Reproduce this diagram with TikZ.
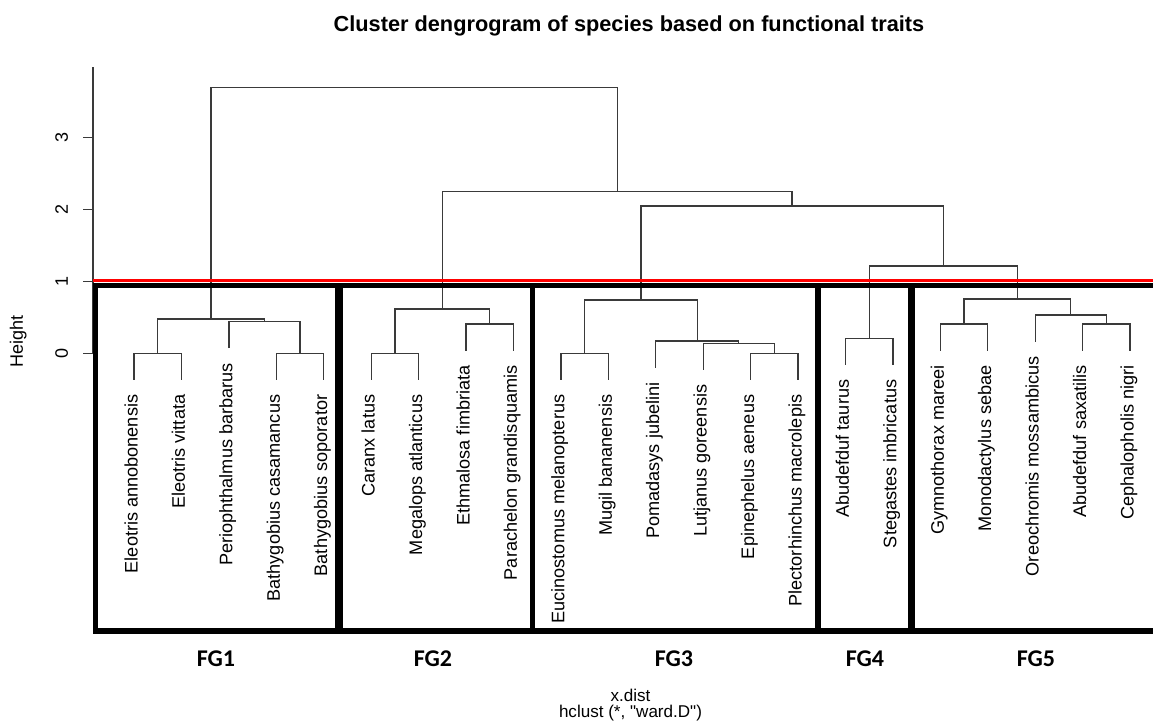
\documentclass[tikz,border=0pt]{standalone}
\usepackage{fontspec}
\setmainfont{Liberation Sans}
\newfontfamily\fgfont{Carlito}
\newfontfamily\subfont[Ligatures=ResetAll]{Liberation Sans}
\definecolor{treegray}{HTML}{3A3A3A}
\definecolor{cutred}{HTML}{FF0000}

\begin{document}
\begin{tikzpicture}[x=0.75pt,y=-0.75pt,
  dendroline/.style={draw=treegray,line width=0.95pt},
  axisline/.style={draw=treegray,line width=0.95pt},
  species/.style={rotate=90,anchor=mid east,inner sep=0pt,font=\fontsize{13.6}{16}\selectfont},
  ticklabel/.style={rotate=90,inner sep=0pt,font=\fontsize{13.5}{16}\selectfont},
  boxedge/.style={draw=black,line width=#1},
  fglabel/.style={anchor=base,inner sep=0pt,font=\fgfont\bfseries\fontsize{18}{20}\selectfont}]
\useasboundingbox (0,0) rectangle (1153,726);

\node[anchor=base,inner sep=0pt,font=\bfseries\fontsize{16.3}{19}\selectfont] (title) at (629,31.7) {Cluster dengrogram of species based on functional traits};

% axis
\draw[axisline] (93,67) -- (93,353.3);
\draw[axisline] (83,353.3) -- (93,353.3);
\draw[axisline] (83,281.3) -- (93,281.3);
\draw[axisline] (83,209.3) -- (93,209.3);
\draw[axisline] (83,137.3) -- (93,137.3);
\node[ticklabel] (h0) at (61.7,353.3) {0};
\node[ticklabel] (h1) at (61.7,281.3) {1};
\node[ticklabel] (h2) at (61.7,209.3) {2};
\node[ticklabel] (h3) at (61.7,137.3) {3};
\node[ticklabel] (ylab) at (18.3,341.7) {Height};

% leaf ends
\coordinate (l1) at (134.0,379.8);
\coordinate (l2) at (181.4,379.8);
\coordinate (l3) at (228.9,348.2);
\coordinate (l4) at (276.3,379.8);
\coordinate (l5) at (323.7,379.8);
\coordinate (l6) at (371.2,379.8);
\coordinate (l7) at (418.6,379.8);
\coordinate (l8) at (466.0,350.5);
\coordinate (l9) at (513.4,350.5);
\coordinate (l10) at (560.9,379.8);
\coordinate (l11) at (608.3,379.8);
\coordinate (l12) at (655.7,367.5);
\coordinate (l13) at (703.2,369.8);
\coordinate (l14) at (750.6,379.8);
\coordinate (l15) at (798.0,379.8);
\coordinate (l16) at (845.4,364.8);
\coordinate (l17) at (892.9,364.8);
\coordinate (l18) at (940.3,350.5);
\coordinate (l19) at (987.7,350.5);
\coordinate (l20) at (1035.2,341.5);
\coordinate (l21) at (1082.6,350.5);
\coordinate (l22) at (1130.0,350.5);

% merges
\coordinate (m1) at (157.7,353.3);
\coordinate (m2) at (300.0,353.3);
\coordinate (m3) at (264.5,321.7);
\coordinate (g1) at (211.1,319.0);
\coordinate (m4) at (394.9,353.3);
\coordinate (m5) at (489.7,324.0);
\coordinate (g2) at (442.3,309.0);
\coordinate (m6) at (584.6,353.3);
\coordinate (m7) at (774.3,353.3);
\coordinate (m8) at (738.8,343.3);
\coordinate (m9) at (697.2,341.0);
\coordinate (g3) at (640.9,300.0);
\coordinate (g4) at (869.2,338.3);
\coordinate (m10) at (964.0,324.0);
\coordinate (m11) at (1106.3,324.0);
\coordinate (m12) at (1070.8,315.0);
\coordinate (g5) at (1017.4,299.0);
\coordinate (k1) at (943.3,266.0);
\coordinate (k2) at (792.1,206.0);
\coordinate (k3) at (617.2,191.7);
\coordinate (root) at (414.2,87.7);

\draw[dendroline] (l1) |- (m1) -| (l2);
\draw[dendroline] (l4) |- (m2) -| (l5);
\draw[dendroline] (l3) |- (m3) -| (m2);
\draw[dendroline] (m1) |- (g1) -| (m3);
\draw[dendroline] (l6) |- (m4) -| (l7);
\draw[dendroline] (l8) |- (m5) -| (l9);
\draw[dendroline] (m4) |- (g2) -| (m5);
\draw[dendroline] (l10) |- (m6) -| (l11);
\draw[dendroline] (l14) |- (m7) -| (l15);
\draw[dendroline] (l13) |- (m8) -| (m7);
\draw[dendroline] (l12) |- (m9) -| (m8);
\draw[dendroline] (m6) |- (g3) -| (m9);
\draw[dendroline] (l16) |- (g4) -| (l17);
\draw[dendroline] (l18) |- (m10) -| (l19);
\draw[dendroline] (l21) |- (m11) -| (l22);
\draw[dendroline] (l20) |- (m12) -| (m11);
\draw[dendroline] (m10) |- (g5) -| (m12);
\draw[dendroline] (g4) |- (k1) -| (g5);
\draw[dendroline] (g3) |- (k2) -| (k1);
\draw[dendroline] (g2) |- (k3) -| (k2);
\draw[dendroline] (g1) |- (root) -| (k3);

% species names
\node[species] (s1) at ([yshift=-11pt]l1) {Eleotris annobonensis};
\node[species] (s2) at ([yshift=-11pt]l2) {Eleotris vittata};
\node[species] (s3) at ([yshift=-11pt]l3) {Periophthalmus barbarus};
\node[species] (s4) at ([yshift=-11pt]l4) {Bathygobius casamancus};
\node[species] (s5) at ([yshift=-11pt]l5) {Bathygobius soporator};
\node[species] (s6) at ([yshift=-11pt]l6) {Caranx latus};
\node[species] (s7) at ([yshift=-11pt]l7) {Megalops atlanticus};
\node[species] (s8) at ([yshift=-11pt]l8) {Ethmalosa fimbriata};
\node[species] (s9) at ([yshift=-11pt]l9) {Parachelon grandisquamis};
\node[species] (s10) at ([yshift=-11pt]l10) {Eucinostomus melanopterus};
\node[species] (s11) at ([yshift=-11pt]l11) {Mugil bananensis};
\node[species] (s12) at ([yshift=-11pt]l12) {Pomadasys jubelini};
\node[species] (s13) at ([yshift=-11pt]l13) {Lutjanus goreensis};
\node[species] (s14) at ([yshift=-11pt]l14) {Epinephelus aeneus};
\node[species] (s15) at ([yshift=-11pt]l15) {Plectorhinchus macrolepis};
\node[species] (s16) at ([yshift=-11pt]l16) {Abudefduf taurus};
\node[species] (s17) at ([yshift=-11pt]l17) {Stegastes imbricatus};
\node[species] (s18) at ([yshift=-11pt]l18) {Gymnothorax mareei};
\node[species] (s19) at ([yshift=-11pt]l19) {Monodactylus sebae};
\node[species] (s20) at ([yshift=-11pt]l20) {Oreochromis mossambicus};
\node[species] (s21) at ([yshift=-11pt]l21) {Abudefduf saxatilis};
\node[species] (s22) at ([yshift=-11pt]l22) {Cephalopholis nigri};

% cut and groups
\draw[draw=cutred,line width=2.25pt] (93,280.8) -- (1153,280.8);
\draw[boxedge=3.8pt] (93,285.8) -- (1153,285.8);
\draw[boxedge=4.5pt] (93,631) -- (1153,631);
\draw[boxedge=3.75pt] (95.2,283) -- (95.2,634);
\draw[boxedge=6pt] (339,283) -- (339,634);
\draw[boxedge=3.75pt] (532,283) -- (532,634);
\draw[boxedge=4.5pt] (818,283) -- (818,634);
\draw[boxedge=5.25pt] (911.5,283) -- (911.5,634);

\node[fglabel] (fg1) at (216,666.5) {FG1};
\node[fglabel] (fg2) at (433,666.5) {FG2};
\node[fglabel] (fg3) at (674,666.5) {FG3};
\node[fglabel] (fg4) at (865,666.5) {FG4};
\node[fglabel] (fg5) at (1036,666.5) {FG5};

\node[anchor=base,inner sep=0pt,font=\fontsize{12.8}{15}\selectfont] (xlab) at (630.5,701.7) {x.dist};
\node[anchor=base,inner sep=0pt,font=\subfont\fontsize{12.8}{15}\selectfont] (sublab) at (630.5,717.5) {hclust (*, "ward.D")};
\end{tikzpicture}
\end{document}
